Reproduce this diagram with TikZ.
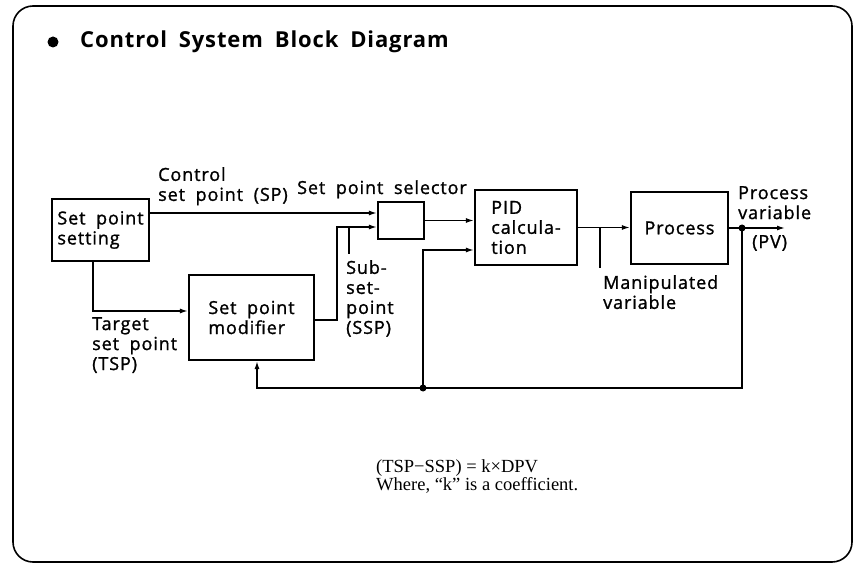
\documentclass[tikz,border=0pt]{standalone}
\usepackage{fontspec}
\setmainfont{Open Sans}[LetterSpace=5,WordSpace=1.9,FakeBold=1.2]
\newfontfamily\titlefam{Open Sans}[LetterSpace=4,WordSpace=1.8]
\newfontfamily\notefam{Liberation Serif}
\usetikzlibrary{arrows.meta}
\newcommand{\labfont}{\fontsize{18}{20}\selectfont}
\newcommand{\titlefont}{\titlefam\bfseries\fontsize{22}{26}\selectfont}
\newcommand{\notefont}{\notefam\fontsize{18.5}{18}\selectfont}
\begin{document}
\begin{tikzpicture}[x=1pt,y=-1pt,
  box/.style={draw, line width=2.2pt, inner sep=0pt, align=left, font=\labfont},
  conn/.style={line width=1.4pt},
  arr/.style={conn, -{Latex[length=8pt,width=5pt]}},
  lbl/.style={inner sep=0pt, font=\labfont, align=left},
  dot/.style={circle, fill, inner sep=0pt, minimum size=7pt}]
\useasboundingbox (0,0) rectangle (855,567);
\draw[line width=1.6pt, rounded corners=20pt] (13,6) rectangle (852,562);
% title
\node[dot, minimum size=11pt] (bullet) at (53,42) {};
\node[anchor=base west, inner sep=0pt, font=\titlefont] (title) at (80,48) {Control System Block Diagram};
% blocks
\node[box, minimum width=97pt, minimum height=62pt] (sps) at (100.5,230) {Set point\\setting};
\node[box, minimum width=46pt, minimum height=37pt] (sel) at (401,220.5) {};
\node[box, minimum width=102pt, minimum height=75pt] (pid) at (526,227.5) {PID\\calcula-\\tion};
\node[box, minimum width=97pt, minimum height=72pt] (proc) at (679.5,228) {Process};
\node[box, minimum width=125pt, minimum height=85pt] (mod) at (251.5,317.5) {Set point\\modifier};
% junctions and helper coordinates
\node[dot] (jpv) at (742,228) {};
\node[dot] (jfb) at (423,388) {};
\coordinate (pvend) at (785,228);
\coordinate (selin1) at ([yshift=7.5pt]sel.west);
\coordinate (selin2) at ([yshift=-6.5pt]sel.west);
\coordinate (modout) at ([yshift=-2.5pt]mod.east);
\coordinate (sspc) at (337,227);
\coordinate (ssplead) at (349,254);
\coordinate (tspc) at (93,311);
\coordinate (mvlead) at (600,268);
\coordinate (pidin2) at ([yshift=-22.5pt]pid.west);
\coordinate (modin) at ([xshift=5.5pt]mod.south);
% connectors
\draw[arr] (sps.east |- selin1) -- (selin1);
\draw[arr] (modout) -| (sspc) -- (selin2);
\draw[conn] (ssplead |- selin2) -- (ssplead);
\draw[arr] (sel.east) -- (sel.east -| pid.west);
\draw[arr] (pid.east) -- (pid.east -| proc.west);
\draw[conn] (mvlead |- pid.east) -- (mvlead);
\draw[arr] (proc.east) -- (pvend);
\draw[conn] (jpv.center) |- (jfb.center);
\draw[arr] (jfb.center) -| (modin);
\draw[arr] (jfb.center) |- (pidin2);
\draw[arr] (sps.south -| tspc) -- (tspc) -- (tspc -| mod.west);
% labels
\node[lbl, anchor=north west] (lcsp) at (158,167) {Control\\set point (SP)};
\node[lbl, anchor=base west] (lsel) at (297,194) {Set point selector};
\node[lbl, anchor=north west] (lssp) at (346,260) {Sub-\\set-\\point\\(SSP)};
\node[lbl, anchor=north west] (ltsp) at (92,317) {Target\\set point\\(TSP)};
\node[lbl, anchor=north west] (lmv) at (603,275) {Manipulated\\variable};
\node[lbl, anchor=north west] (lpv) at (738,186) {Process\\variable};
\node[lbl, anchor=base west] (lpv2) at (752,248) {(PV)};
% note
\node[anchor=north west, inner sep=0pt, align=left, font=\notefont] (note) at (376,459) {(TSP−SSP) = k×DPV\\Where, “k” is a coefficient.};
\end{tikzpicture}
\end{document}
